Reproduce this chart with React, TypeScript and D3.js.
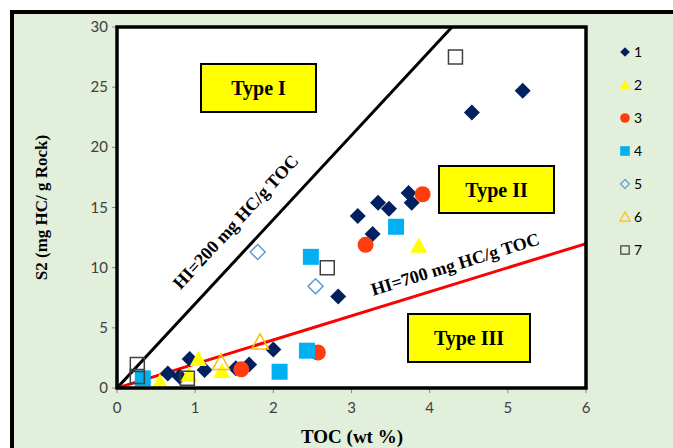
import React from 'react';
import * as d3 from 'd3';

// [TOC, S2] for each sample group
const series1 = [[5.19, 24.7], [4.54, 22.9], [3.08, 14.3], [3.34, 15.4], [3.48, 14.9], [3.73, 16.2], [3.77, 15.4], [3.27, 12.8], [2.83, 7.6], [2.0, 3.2], [1.52, 1.65], [1.69, 1.95], [0.65, 1.2], [0.8, 0.95], [0.93, 2.4], [1.12, 1.5]];
const series2 = [[3.86, 11.8], [0.55, 0.5], [1.04, 2.4], [0.92, 1.1], [1.34, 1.4]];
const series3 = [[3.91, 16.1], [3.18, 11.9], [2.57, 2.95], [1.59, 1.55]];
const series4 = [[3.57, 13.4], [2.48, 10.9], [2.43, 3.1], [2.08, 1.35], [0.33, 0.8]];
const series5 = [[1.8, 11.3], [2.54, 8.45]];
const series6 = [[1.83, 3.8], [1.33, 2.1]];
const series7 = [[4.33, 27.5], [2.69, 10.0], [0.26, 1.95], [0.26, 0.95], [0.9, 0.8]];

const seriesNames = ['1', '2', '3', '4', '5', '6', '7'];
const xTicks = [0, 1, 2, 3, 4, 5, 6];
const yTicks = [0, 5, 10, 15, 20, 25, 30];
const hiLines = [{ slope: 7, label: 'HI=200 mg HC/g TOC' }, { slope: 2, label: 'HI=700 mg HC/g TOC' }];

const styles = [
  { shape: 'diamond', fill: '#002060', stroke: 'none', size: 16 },
  { shape: 'triangle', fill: '#ffff00', stroke: 'none', size: 17 },
  { shape: 'circle', fill: '#ff3d0f', stroke: 'none', size: 16 },
  { shape: 'square', fill: '#00b0f0', stroke: 'none', size: 16 },
  { shape: 'diamond', fill: 'none', stroke: '#5b9bd5', size: 15 },
  { shape: 'triangle', fill: 'none', stroke: '#ffc000', size: 17 },
  { shape: 'square', fill: 'none', stroke: '#404040', size: 14 },
];

function marker(shape: string, s: number) {
  const h = s / 2;
  if (shape === 'diamond') return `M0,${-h}L${h},0L0,${h}L${-h},0Z`;
  if (shape === 'square') return `M${-h},${-h}H${h}V${h}H${-h}Z`;
  if (shape === 'triangle') return `M0,${-h}L${h},${h * 0.8}L${-h},${h * 0.8}Z`;
  return d3.arc()({ innerRadius: 0, outerRadius: h, startAngle: 0, endAngle: 2 * Math.PI }) as string;
}

const App = () => {
  const W = 673, H = 448;
  const x = d3.scaleLinear().domain([0, 6]).range([117, 586]);
  const y = d3.scaleLinear().domain([0, 30]).range([388, 27]);
  const allSeries = [series1, series2, series3, series4, series5, series6, series7];
  const serif = '"Liberation Serif", "Times New Roman", serif';
  const sans = 'Lato, "Open Sans", sans-serif';

  const typeBoxes = [
    { label: 'Type I', x0: 201, y0: 64, x1: 316, y1: 112 },
    { label: 'Type II', x0: 439, y0: 166, x1: 554, y1: 213 },
    { label: 'Type III', x0: 408, y0: 314, x1: 530, y1: 362 },
  ];

  const angle = (slope: number) => (Math.atan2(y(slope) - y(0), x(1) - x(0)) * 180) / Math.PI;
  const lineLabelPos = [
    { cx: 240, cy: 226 },
    { cx: 457, cy: 270 },
  ];

  return (
    <svg width={W} height={H} style={{ position: 'absolute', left: 0, top: 0 }}>
      <rect x={0} y={0} width={W} height={H} fill="#fff" />
      <rect x={12} y={12} width={W + 20} height={H + 20} fill="#e2efda" stroke="#000" strokeWidth={4} />
      <rect x={x(0)} y={y(30)} width={x(6) - x(0)} height={y(0) - y(30)} fill="#fff" />

      {/* ticks */}
      {yTicks.map(t => (
        <g key={'y' + t}>
          <line x1={x(0) - 5} x2={x(0)} y1={y(t)} y2={y(t)} stroke="#868686" />
          <text x={x(0) - 9} y={y(t) + 5} textAnchor="end" fontFamily={sans} fontSize={15} fill="#404040">{t}</text>
        </g>
      ))}
      {xTicks.map(t => (
        <g key={'x' + t}>
          <line x1={x(t)} x2={x(t)} y1={y(0)} y2={y(0) + 5} stroke="#868686" />
          <text x={x(t)} y={y(0) + 25} textAnchor="middle" fontFamily={sans} fontSize={15} fill="#404040">{t}</text>
        </g>
      ))}

      <text x={352} y={443} textAnchor="middle" fontFamily={serif} fontWeight="bold" fontSize={19} fill="#000">TOC (wt %)</text>
      <text transform={`translate(47,${(y(0) + y(30)) / 2}) rotate(-90)`} textAnchor="middle" fontFamily={serif} fontWeight="bold" fontSize={17} fill="#000">S2 (mg HC/ g Rock)</text>

      {/* HI lines */}
      <clipPath id="plotclip">
        <rect x={x(0)} y={y(30)} width={x(6) - x(0)} height={y(0) - y(30)} />
      </clipPath>
      <g clipPath="url(#plotclip)">
        <line x1={x(0)} y1={y(0)} x2={x(6)} y2={y(42)} stroke="#000" strokeWidth={3} />
        <line x1={x(0)} y1={y(0)} x2={x(6)} y2={y(12)} stroke="#ff0000" strokeWidth={3} />
      </g>
      {hiLines.map((l, i) => (
        <text key={l.label} transform={`translate(${lineLabelPos[i].cx},${lineLabelPos[i].cy}) rotate(${angle(l.slope)})`} textAnchor="middle" fontFamily={serif} fontWeight="bold" fontSize={18} fill="#000">{l.label}</text>
      ))}

      {/* Type boxes */}
      {typeBoxes.map(b => (
        <g key={b.label}>
          <rect x={b.x0} y={b.y0} width={b.x1 - b.x0} height={b.y1 - b.y0} fill="#ffff00" stroke="#000" strokeWidth={2} />
          <text x={(b.x0 + b.x1) / 2} y={(b.y0 + b.y1) / 2 + 7} textAnchor="middle" fontFamily={serif} fontWeight="bold" fontSize={20} fill="#000">{b.label}</text>
        </g>
      ))}

      {/* points */}
      {allSeries.map((pts, si) => (
        <g key={'s' + si}>
          {pts.map((p, i) => (
            <path key={i} d={marker(styles[si].shape, styles[si].size)} transform={`translate(${x(p[0])},${y(p[1])})`}
              fill={styles[si].fill} stroke={styles[si].stroke} strokeWidth={styles[si].stroke === 'none' ? 0 : 1.5} />
          ))}
        </g>
      ))}

      <rect x={x(0)} y={y(30)} width={x(6) - x(0)} height={y(0) - y(30)} fill="none" stroke="#000" strokeWidth={3.5} />

      {/* legend */}
      {seriesNames.map((n, i) => {
        const ly = 52 + i * 33;
        const st = styles[i];
        return (
          <g key={'l' + n}>
            <path d={marker(st.shape, st.size * 0.6)} transform={`translate(625,${ly})`} fill={st.fill} stroke={st.stroke} strokeWidth={st.stroke === 'none' ? 0 : 1.2} />
            <text x={634} y={ly + 5} fontFamily={sans} fontSize={14} fill="#000">{n}</text>
          </g>
        );
      })}
    </svg>
  );
};

export default App;
